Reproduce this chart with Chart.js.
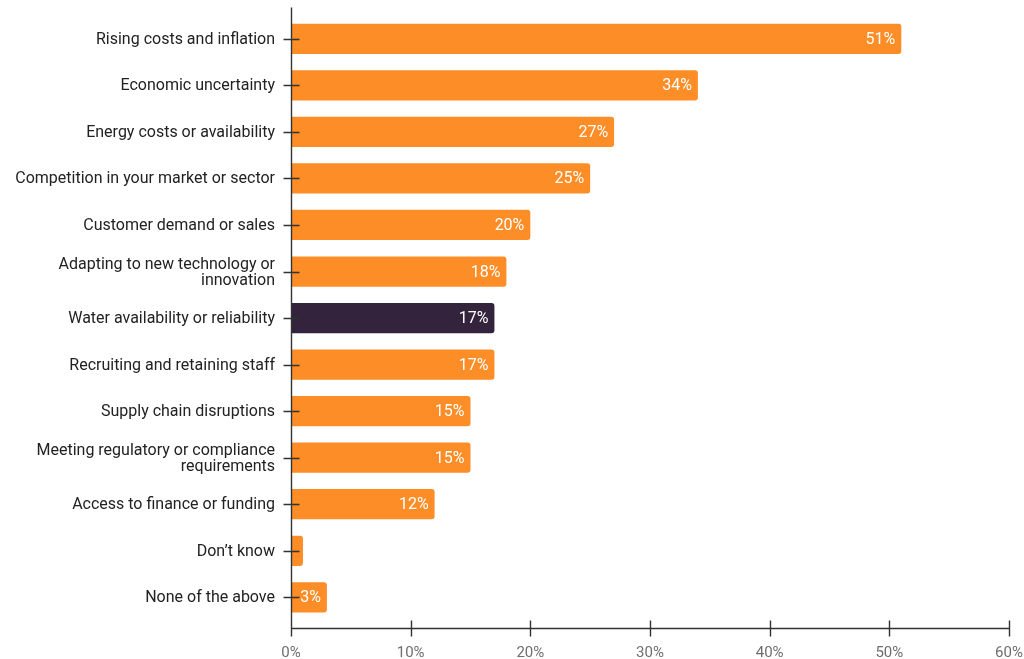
<!DOCTYPE html>
<html>
<head>
<meta charset="utf-8">
<script src="https://cdn.jsdelivr.net/npm/chart.js@4"></script>
<style>
  html, body { margin: 0; padding: 0; background: #fff; }
  #wrap { width: 1024px; height: 659px; }
</style>
</head>
<body>
<div id="wrap"><canvas id="challenges"></canvas></div>
<script>
const categories = [
  'Rising costs and inflation',
  'Economic uncertainty',
  'Energy costs or availability',
  'Competition in your market or sector',
  'Customer demand or sales',
  ['Adapting to new technology or', 'innovation'],
  'Water availability or reliability',
  'Recruiting and retaining staff',
  'Supply chain disruptions',
  ['Meeting regulatory or compliance', 'requirements'],
  'Access to finance or funding',
  'Don\u2019t know',
  'None of the above'
];
const shares = [51, 34, 27, 25, 20, 18, 17, 17, 15, 15, 12, 1, 3];
const highlight = 'Water availability or reliability';
const xTicks = [0, 10, 20, 30, 40, 50, 60];

const ORANGE = '#fd8d26';
const PURPLE = '#33233d';
const AXIS = '#333333';
const EXTEND = 7; // axis lines run a little past the plot area

const barColors = categories.map(c => c === highlight ? PURPLE : ORANGE);

// value labels inside the bar ends
const valueLabels = {
  id: 'valueLabels',
  afterDatasetsDraw(chart) {
    const ctx = chart.ctx;
    const meta = chart.getDatasetMeta(0);
    ctx.save();
    ctx.font = '16px Roboto';
    ctx.fillStyle = '#ffffff';
    ctx.textAlign = 'right';
    ctx.textBaseline = 'middle';
    meta.data.forEach((bar, i) => {
      const v = shares[i];
      if (v < 2) return;
      ctx.fillText(v + '%', bar.x - 6, bar.y + 1);
    });
    ctx.restore();
  }
};

// axis lines with tick marks crossing them
const crossAxes = {
  id: 'crossAxes',
  afterDatasetsDraw(chart) {
    const { ctx, chartArea } = chart;
    const xs = chart.scales.x;
    const ys = chart.scales.y;
    const left = Math.round(chartArea.left) + 0.5;
    const base = Math.round(chartArea.bottom + EXTEND) + 0.5;
    ctx.save();
    ctx.strokeStyle = AXIS;
    ctx.lineWidth = 1.4;
    ctx.beginPath();
    ctx.moveTo(left, chartArea.top - EXTEND - 1);
    ctx.lineTo(left, base);
    ctx.lineTo(chartArea.right, base);
    ys.ticks.forEach((t, i) => {
      const y = Math.round(ys.getPixelForTick(i)) + 0.5;
      ctx.moveTo(left - 8, y);
      ctx.lineTo(left + 8, y);
    });
    xs.ticks.forEach((t, i) => {
      const x = Math.round(xs.getPixelForTick(i)) + 0.5;
      ctx.moveTo(x, base - 8);
      ctx.lineTo(x, base + 8);
    });
    ctx.stroke();
    ctx.restore();
  }
};

new Chart(document.getElementById('challenges'), {
  type: 'bar',
  data: {
    labels: categories,
    datasets: [{
      data: shares,
      backgroundColor: barColors,
      borderWidth: 0,
      borderRadius: 3,
      barPercentage: 0.65,
      categoryPercentage: 1
    }]
  },
  options: {
    indexAxis: 'y',
    responsive: true,
    maintainAspectRatio: false,
    animation: false,
    layout: { padding: { top: 15.5, right: 15, bottom: 0, left: 0 } },
    plugins: {
      legend: { display: false },
      tooltip: { enabled: false }
    },
    scales: {
      x: {
        min: 0,
        max: 60,
        afterBuildTicks: scale => { scale.ticks = xTicks.map(v => ({ value: v })); },
        afterFit: scale => {
          scale.height = 38.4;
          scale.paddingLeft = 0;
          scale.paddingRight = 0;
        },
        grid: { display: false, drawTicks: false },
        border: { display: false },
        ticks: {
          padding: 24,
          color: '#6e6e6e',
          font: { family: 'Roboto', size: 15 },
          callback: v => v + '%'
        }
      },
      y: {
        afterFit: scale => {
          scale.width = 291;
          scale.paddingTop = 0;
          scale.paddingBottom = 0;
        },
        grid: { display: false, drawTicks: false },
        border: { display: false },
        ticks: {
          padding: 16,
          labelOffset: 1,
          color: '#222222',
          font: { family: 'Roboto', size: 16, lineHeight: 1 }
        }
      }
    }
  },
  plugins: [valueLabels, crossAxes]
});
</script>
</body>
</html>
